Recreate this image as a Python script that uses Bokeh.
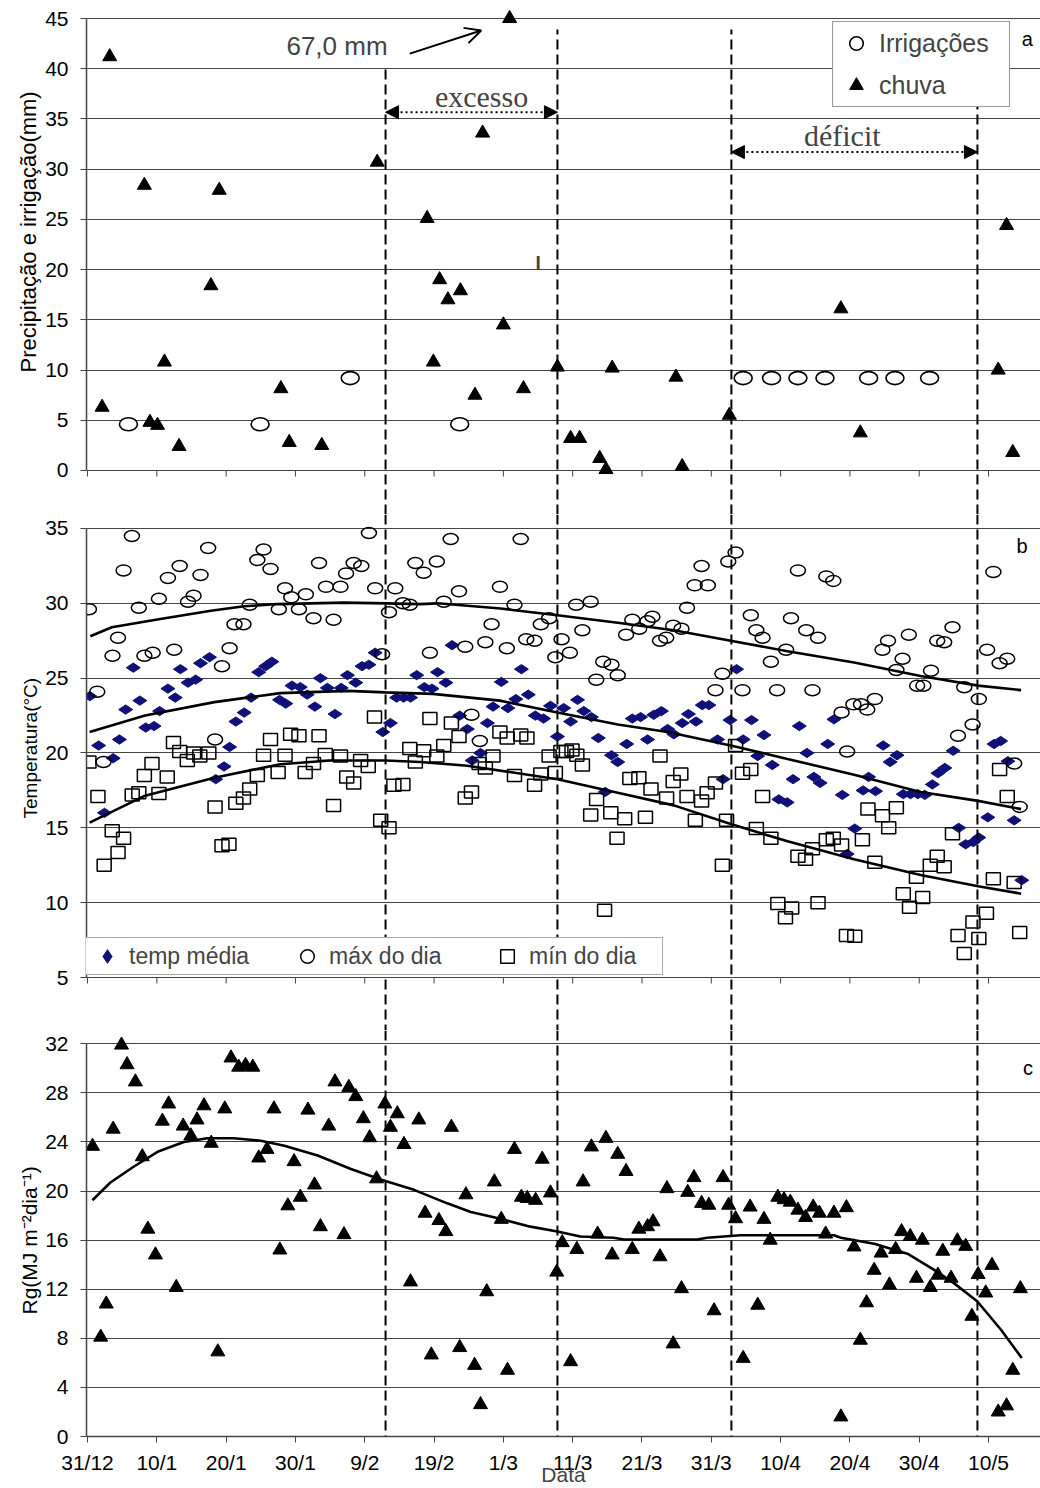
import math
from bokeh.plotting import figure
from bokeh.layouts import column
from bokeh.models import (Range1d, FixedTicker, Span, Legend, LegendItem, Arrow,
                          NormalHead, OpenHead, Label, Title)
from bokeh.embed import file_html
from bokeh.resources import INLINE

SANS = "Liberation Sans"
SERIF = "Liberation Serif"
NAVY = "#10107a"
GRID = "#444444"
NAN = float("nan")

# ---------------- eixo x (dias desde 31/12) ----------------
x_ticks = [0, 10, 20, 30, 40, 50, 60, 70, 80, 90, 100, 110, 120, 130]
x_tick_labels = ["31/12", "10/1", "20/1", "30/1", "9/2", "19/2", "1/3", "11/3",
                 "21/3", "31/3", "10/4", "20/4", "30/4", "10/5"]
periodos = [43.0, 67.8, 92.9, 128.4]          # linhas tracejadas
topo_tracejado_a = [40.0, 43.9, 43.9, 43.9]    # topo das linhas no painel a

# ---------------- painel a : precipitação e irrigação ----------------
irrig_dia = [5.9, 24.9, 37.9, 53.7, 94.6, 98.7, 102.5, 106.4, 112.7, 116.5, 121.5]
irrig_mm = [4.6, 4.6, 9.2, 4.6, 9.2, 9.2, 9.2, 9.2, 9.2, 9.2, 9.2]
chuva_dia = [2.1, 3.2, 8.2, 9.0, 10.1, 11.1, 13.2, 17.8, 19.0, 27.9,
             29.1, 33.8, 41.8, 49.0, 49.9, 50.8, 52.0, 53.8, 55.9, 57.0,
             60.0, 60.9, 62.9, 67.8, 69.7, 71.0, 73.9, 74.8, 75.7, 84.9,
             85.8, 92.6, 108.7, 111.5, 131.4, 132.6, 133.5]
chuva_mm = [6.3, 41.2, 28.4, 4.8, 4.5, 10.8, 2.4, 18.4, 27.9, 8.15,
            2.8, 2.5, 30.7, 25.1, 10.8, 19.0, 17.0, 17.9, 7.5, 33.6,
            14.5, 45.0, 8.15, 10.3, 3.2, 3.2, 1.2, 0.1, 10.2, 9.3,
            0.4, 5.5, 16.1, 3.75, 10.0, 24.4, 1.8]

# ---------------- painel b : temperatura ----------------
tmax_dia = [0.2, 1.4, 2.3, 3.6, 4.4, 5.2, 6.4, 7.4, 8.2, 9.4, 10.3, 11.6, 12.5, 13.3, 14.5,
            15.3, 16.3, 17.4, 18.4, 19.4, 20.5, 21.2, 22.5, 23.4, 24.5, 25.4, 26.4, 27.6,
            28.5, 29.4, 30.5, 31.5, 32.6, 33.4, 34.4, 35.5, 36.5, 37.3, 38.4, 39.5, 40.6,
            41.5, 42.5, 43.5, 44.4, 45.5, 46.5, 47.3, 48.5, 49.4, 50.4, 51.4, 52.4, 53.6,
            54.5, 55.4, 56.6, 57.4, 58.3, 59.5, 60.5, 61.6, 62.5, 63.3, 64.5, 65.4, 66.6,
            67.5, 68.4, 69.6, 70.5, 71.4, 72.6, 73.4, 74.4, 75.6, 76.5, 77.7, 78.6, 79.6,
            80.8, 81.5, 82.6, 83.5, 84.5, 85.7, 86.5, 87.6, 88.6, 89.5, 90.6, 91.6, 92.45,
            93.5, 94.5, 95.7, 96.5, 97.4, 98.6, 99.5, 100.8, 101.5, 102.5, 103.7, 104.6,
            105.4, 106.6, 107.6, 108.8, 109.6, 110.5, 111.6, 112.5, 113.6, 114.7, 115.5,
            116.7, 117.6, 118.5, 119.7, 120.6, 121.7, 122.6, 123.6, 124.8, 125.6, 126.5,
            127.7, 128.6, 129.8, 130.7, 131.6, 132.7, 133.7, 134.5]
tmax = [29.6, 24.1, 19.4, 26.5, 27.7, 32.2, 34.5, 29.7, 26.5, 26.7, 30.3, 31.7, 26.9, 32.5, 30.1,
        30.5, 31.9, 33.7, 20.9, 25.8, 27.0, 28.6, 28.6, 29.9, 32.9, 33.6, 32.3, 29.6,
        31.0, 30.4, 29.6, 30.6, 29.0, 32.7, 31.1, 28.9, 31.1, 32.0, 32.7, 32.5, 34.7,
        31.0, 26.6, 29.4, 31.0, 30.0, 29.9, 32.7, 32.05, 26.7, 32.8, 30.1, 34.3, 30.8,
        27.1, 22.55, 20.8, 27.4, 28.6, 31.1, 27.0, 29.9, 34.3, 27.6, 27.5, 28.6, 29.0,
        26.4, 27.6, 26.7, 29.9, 28.2, 30.1, 24.9, 26.1, 25.9, 25.2, 27.9, 28.9, 28.3,
        28.8, 29.1, 27.5, 27.7, 28.5, 28.3, 29.7, 31.2, 32.5, 31.2, 24.2, 25.3, 32.8,
        33.4, 24.2, 29.2, 28.2, 27.7, 26.1, 24.2, 26.9, 29.0, 32.2, 28.2, 24.2,
        27.7, 31.8, 31.5, 22.7, 20.1, 23.25, 23.25, 22.9, 23.6, 26.9, 27.5,
        25.55, 26.3, 27.9, 24.5, 24.5, 25.5, 27.5, 27.4, 28.4, 21.15, 24.4,
        21.9, 23.6, 26.9, 32.1, 26.0, 26.3, 19.3, 16.4]

tmed_dia = [0.33, 1.6, 2.45, 3.7, 4.6, 5.5, 6.6, 7.55, 8.4, 9.6, 10.4, 11.6, 12.65, 13.4, 14.5,
            15.6, 16.3, 17.6, 18.5, 19.7, 20.5, 21.4, 22.6, 23.6, 24.7, 25.7, 26.6, 27.7,
            28.6, 29.5, 30.7, 31.7, 32.8, 33.6, 34.6, 35.7, 36.6, 37.5, 38.7, 39.6, 40.6,
            41.5, 42.6, 43.7, 44.6, 45.6, 46.6, 47.5, 48.6, 49.7, 50.5, 51.7, 52.6, 53.7,
            54.8, 55.5, 56.7, 57.7, 58.5, 59.7, 60.65, 61.8, 62.6, 63.6, 64.6, 65.8, 66.8,
            67.8, 68.7, 69.7, 70.7, 71.6, 72.7, 73.7, 74.7, 75.6, 76.5, 77.8, 78.6, 79.8,
            80.8, 81.7, 82.8, 83.7, 84.6, 85.8, 86.7, 87.8, 88.7, 89.65, 90.9, 91.7, 92.7,
            93.65, 94.6, 95.8, 96.7, 97.6, 98.8, 99.75, 100.95, 101.8, 102.7, 103.8, 104.8,
            105.7, 106.8, 107.7, 108.9, 109.6, 110.7, 111.9, 112.7, 113.7, 114.8, 115.8,
            116.8, 117.7, 118.75, 119.8, 120.8, 121.9, 122.7, 123.7, 124.9, 125.7, 126.7,
            127.8, 128.6, 129.9, 130.8, 131.75, 132.8, 133.7, 134.8]
tmed = [23.8, 20.5, 16.0, 19.65, 20.9, 22.9, 25.7, 23.5, 21.7, 21.8, 22.8, 24.3, 23.7, 25.6, 24.7,
        24.9, 26.0, 26.4, 18.25, 19.1, 20.4, 22.1, 22.7, 23.7, 25.4, 25.8, 26.1, 23.55,
        23.3, 24.5, 24.4, 23.9, 23.1, 25.0, 24.35, 22.6, 24.35, 25.2, 24.7, 25.8, 25.9,
        26.7, 21.4, 22.0, 23.7, 23.7, 23.7, 25.2, 24.4, 24.3, 25.4, 24.7, 27.2, 22.5,
        21.6, 19.5, 20.0, 22.0, 23.1, 24.75, 23.0, 23.6, 25.6, 23.9, 22.5, 22.3, 23.15,
        21.1, 23.0, 22.1, 23.55, 22.8, 22.4, 21.0, 17.4, 19.85, 19.4, 20.6, 22.3, 22.4,
        20.9, 22.55, 22.8, 21.6, 21.25, 22.0, 22.6, 22.1, 23.2, 23.2, 20.9, 18.25, 22.2,
        25.6, 20.9, 22.2, 19.8, 21.2, 19.2, 16.9, 16.7, 18.25, 21.8, 20.0, 18.4,
        18.0, 20.6, 22.25, 17.2, 13.25, 14.95, 17.5, 18.4, 17.45, 20.5, 19.4,
        19.85, 17.25, 17.25, 17.25, 17.2, 17.9, 18.65, 19.0, 20.15, 15.0, 13.9,
        14.05, 14.35, 15.7, 20.6, 20.8, 19.45, 15.5, 11.5]

tmin_dia = [0.2, 1.5, 2.4, 3.56, 4.4, 5.2, 6.45, 7.4, 8.2, 9.3, 10.3, 11.5, 12.4, 13.3, 14.4,
            15.3, 16.2, 17.5, 18.4, 19.4, 20.4, 21.4, 22.5, 23.4, 24.5, 25.4, 26.4, 27.5,
            28.5, 29.3, 30.5, 31.4, 32.6, 33.4, 34.3, 35.5, 36.5, 37.4, 38.4, 39.4, 40.5,
            41.4, 42.3, 43.5, 44.2, 45.5, 46.5, 47.3, 48.5, 49.4, 50.4, 51.4, 52.5, 53.6,
            54.5, 55.4, 56.5, 57.4, 58.5, 59.5, 60.55, 61.6, 62.5, 63.4, 64.5, 65.4, 66.6,
            67.5, 68.3, 69.1, 69.9, 70.6, 71.4, 72.6, 73.45, 74.6, 75.5, 76.4, 77.5, 78.25,
            79.55, 80.5, 81.3, 82.6, 83.55, 84.5, 85.6, 86.5, 87.7, 88.6, 89.4, 90.6, 91.6,
            92.2, 93.5, 94.5, 95.7, 96.5, 97.4, 98.6, 99.6, 100.7, 101.6, 102.5, 103.6,
            104.6, 105.4, 106.6, 107.6, 108.8, 109.5, 110.7, 111.8, 112.6, 113.6, 114.7,
            115.6, 116.7, 117.7, 118.6, 119.6, 120.5, 121.6, 122.6, 123.6, 124.8, 125.6,
            126.5, 127.75, 128.6, 129.7, 130.7, 131.6, 132.7, 133.7, 134.5]
tmin = [19.4, 17.1, 12.5, 14.8, 13.35, 14.3, 17.2, 17.35, 18.5, 19.3, 17.3, 18.4, 20.7, 20.1, 19.5,
        20.0, 19.8, 20.0, 16.4, 13.8, 13.9, 16.65, 17.0, 17.6, 18.5, 19.85, 20.9, 18.7,
        19.85, 21.25, 21.15, 18.7, 19.3, 21.15, 19.9, 16.5, 19.8, 18.4, 18.0, 19.5, 19.1,
        22.4, 15.5, 15.0, 17.85, 17.9, 20.3, 19.4, 20.15, 22.3, 19.8, 20.5, 22.0, 21.1,
        17.0, 17.4, 19.3, 19.0, 19.8, 21.4, 21.0, 18.5, 21.2, 21.0, 17.85, 18.6, 19.8,
        18.7, 20.1, 20.1, 20.2, 19.85, 19.2, 15.85, 16.9, 9.5, 16.0, 14.3, 15.6, 18.3,
        18.35, 15.7, 17.6, 19.8, 17.0, 18.1, 18.6, 17.1, 15.5, 16.8, 17.35, 18.0, 12.5,
        15.5, 20.5, 18.65, 18.9, 14.95, 17.1, 14.3, 9.95, 9.0, 9.65, 13.1, 12.9,
        13.6, 10.0, 14.2, 14.3, 13.85, 7.8, 7.75, 14.2, 16.25, 12.7, 15.8,
        15.0, 16.35, 10.6, 9.7, 11.7, 10.35, 12.5, 13.1, 12.4, 14.6, 7.8,
        6.6, 8.7, 7.6, 9.3, 11.6, 18.9, 17.1, 11.35, 8.0]

# linhas de tendência (painel b)
tend_dia_max = [0.4, 3.5, 10.5, 17.8, 22.6, 27.4, 37.0, 43.0, 48.0, 50.5, 59.6, 67.8, 76.5,
                84.6, 92.8, 101.0, 110.6, 120.2, 128.5, 134.7]
tend_max = [27.8, 28.4, 28.95, 29.5, 29.8, 29.95, 30.05, 30.0, 29.95, 30.0, 29.65, 29.2, 28.7,
            28.2, 27.5, 26.8, 26.05, 25.15, 24.5, 24.2]
tend_dia_med = [0.3, 8.3, 18.3, 27.8, 37.5, 43.0, 49.8, 59.5, 67.8, 76.5, 83.7, 92.8, 101.0,
                110.6, 120.2, 128.5, 134.7]
tend_med = [21.4, 22.5, 23.4, 24.0, 24.15, 24.05, 23.95, 23.5, 22.7, 21.9, 21.4, 20.5, 19.6,
            18.55, 17.4, 16.8, 16.25]
tend_dia_min = [0.3, 8.3, 18.3, 27.8, 35.0, 43.0, 48.0, 54.8, 67.8, 76.5, 84.6, 92.8, 101.0,
                110.6, 120.2, 128.5, 134.7]
tend_min = [15.35, 17.15, 18.35, 19.25, 19.5, 19.5, 19.4, 19.15, 18.25, 17.35, 16.5, 15.25,
            14.1, 12.9, 11.85, 11.1, 10.6]

# ---------------- painel c : radiação global ----------------
rg_dia = [0.72, 1.9, 2.7, 3.7, 4.9, 5.7, 6.9, 7.9, 8.7, 9.8, 10.8, 11.7, 12.8, 13.8, 14.9, 15.8,
          16.8, 17.85, 18.8, 19.8, 20.7, 21.8, 22.8, 23.85, 24.7, 25.9, 26.9, 27.75, 28.9, 29.8,
          30.7, 31.8, 32.75, 33.6, 34.8, 35.7, 37.0, 37.7, 38.7, 39.8, 40.7, 41.7, 42.9, 43.7,
          44.7, 45.65, 46.6, 47.8, 48.7, 49.6, 50.7, 51.7, 52.5, 53.7, 54.6, 55.85, 56.7, 57.6,
          58.7, 59.7, 60.6, 61.6, 62.6, 63.45, 64.65, 65.6, 66.8, 67.7, 68.5, 69.7, 70.6, 71.5,
          72.7, 73.6, 74.8, 75.7, 76.5, 77.7, 78.6, 79.55, 80.8, 81.6, 82.6, 83.6, 84.5, 85.7,
          86.6, 87.5, 88.6, 89.65, 90.4, 91.7, 92.5, 93.5, 94.6, 95.6, 96.7, 97.6, 98.5, 99.6,
          100.5, 101.4, 102.5, 103.6, 104.7, 105.6, 106.5, 107.7, 108.7, 109.5, 110.6, 111.5,
          112.4, 113.5, 114.5, 115.7, 116.6, 117.45, 118.7, 119.6, 120.45, 121.6, 122.7, 123.4,
          124.6, 125.5, 126.7, 127.6, 128.5, 129.6, 130.5, 131.4, 132.6, 133.5, 134.6]
rg = [23.65, 8.1, 10.8, 25.05, 31.9, 30.3, 28.9, 22.8, 16.9, 14.8, 25.7, 27.1, 12.15, 25.3, 24.5,
      25.8, 26.95, 23.9, 6.9, 26.7, 30.85, 30.1, 30.25, 30.1, 22.7, 23.4, 26.7, 15.2, 18.8, 22.4,
      19.5, 26.6, 20.5, 17.1, 25.3, 28.9, 16.45, 28.45, 27.7, 25.9, 24.35, 21.0, 27.1, 25.2,
      26.3, 23.8, 12.6, 25.8, 18.2, 6.65, 17.6, 16.7, 25.2, 7.25, 19.7, 5.8, 2.6, 11.8,
      20.75, 17.7, 5.4, 23.4, 19.5, 19.4, 19.25, 22.6, 19.85, 13.4, 15.8, 6.1, 15.25, 20.75,
      23.6, 16.5, 24.3, 14.8, 23.0, 21.6, 15.25, 16.9, 17.1, 17.5, 14.65, 20.2, 7.55, 12.05,
      19.9, 21.1, 19.0, 18.85, 10.25, 21.1, 18.85, 17.75, 6.37, 18.7, 10.7, 17.7, 16.0, 19.5,
      19.3, 19.1, 18.45, 17.85, 18.7, 18.2, 16.5, 18.2, 1.6, 18.65, 15.45, 7.85,
      10.9, 13.55, 14.95, 12.35, 15.25, 16.7, 16.3, 12.9, 16.0, 12.15, 13.15, 15.1,
      12.9, 15.95, 15.5, 9.8, 13.2, 11.7, 13.95, 2.0, 2.5, 5.4, 12.05]
tend_dia_rg = [0.7, 3.3, 6.7, 10.1, 13.9, 17.3, 21.1, 25.0, 28.4, 33.2, 38.0, 42.5, 47.1, 51.9,
               55.3, 59.1, 63.9, 67.8, 71.1, 75.9, 77.4, 88.0, 89.4, 94.2, 107.7, 108.7, 113.5,
               118.3, 122.1, 125.0, 128.4, 131.8, 134.8]
tend_rg = [19.25, 20.7, 22.0, 23.2, 24.0, 24.3, 24.3, 24.1, 23.7, 22.9, 21.8, 20.9, 20.1, 19.0,
           18.3, 17.8, 17.1, 16.7, 16.3, 16.2, 16.05, 16.05, 16.2, 16.4, 16.4, 16.2, 15.7,
           14.9, 13.6, 12.5, 11.0, 8.7, 6.4]


def base_fig(frame_h, y0, y1, top, bottom, x_axis):
    p = figure(frame_width=954, frame_height=frame_h,
               x_range=Range1d(-0.15, 137.5), y_range=Range1d(y0, y1),
               min_border_left=86, min_border_right=0,
               min_border_top=top, min_border_bottom=bottom,
               output_backend="svg", toolbar_location=None,
               x_axis_location="below" if x_axis else None,
               outline_line_color=None, background_fill_color="white",
               border_fill_color="white")
    p.xgrid.visible = False
    return p


def style_y(p, ticks, lo, hi):
    ax = p.yaxis[0]
    ax.ticker = FixedTicker(ticks=ticks)
    ax.bounds = (lo, hi)
    ax.major_tick_out = 6
    ax.major_tick_in = 0
    ax.minor_tick_out = 0
    ax.minor_tick_in = 0
    ax.major_label_standoff = 12
    ax.major_label_text_font = SANS
    ax.major_label_text_font_size = "21px"
    ax.major_label_text_color = "black"
    ax.axis_line_color = GRID
    ax.axis_line_width = 1.5
    ax.major_tick_line_color = GRID
    g = p.ygrid[0]
    g.ticker = FixedTicker(ticks=ticks)
    g.grid_line_color = GRID
    g.grid_line_width = 1


def ytitle(p, text, offset, size):
    p.add_layout(Title(text=text, align="left", offset=offset, text_font=SANS,
                       text_font_size=size, text_font_style="normal",
                       text_color="black", standoff=4), "left")


def letter(p, text, xv, yv):
    p.add_layout(Label(x=xv, y=yv, text=text, text_align="center",
                       text_baseline="middle", text_font=SANS,
                       text_font_size="20px", text_color="black"))


# ======================= painel a =======================
ya0, ya1 = -4.381, 45.996
pa = base_fig(506, ya0, ya1, 8, 0, False)
style_y(pa, list(range(0, 50, 5)), 0, 45)
pa.segment(x0=x_ticks, y0=[0] * len(x_ticks), x1=x_ticks, y1=[-0.6] * len(x_ticks),
           line_color=GRID, line_width=1)
pa.segment(x0=periodos, y0=[ya0] * len(periodos), x1=periodos, y1=topo_tracejado_a,
           line_color="black", line_width=2, line_dash="10 5")
pa.ellipse(x=irrig_dia, y=irrig_mm, width=18, height=13, width_units="screen",
           height_units="screen", fill_color="white", line_color="black", line_width=1.6)
pa.scatter(x=chuva_dia, y=chuva_mm, marker="triangle", size=14,
           fill_color="black", line_color="black")
# amostras de legenda (sem posição visível)
leg_irr = pa.scatter(x=[NAN], y=[NAN], marker="circle", size=13, fill_color="white",
                     line_color="black", line_width=1.6)
leg_chu = pa.scatter(x=[NAN], y=[NAN], marker="triangle", size=14, fill_color="black",
                     line_color="black")
leg_a = Legend(items=[LegendItem(label="Irrigações", renderers=[leg_irr]),
                      LegendItem(label="chuva", renderers=[leg_chu])],
               location=(746, 407), orientation="vertical",
               label_text_font=SANS, label_text_font_size="25px",
               glyph_width=38, glyph_height=34, label_height=20, label_width=126,
               label_standoff=4, spacing=8, padding=4, margin=0,
               border_line_color="#333333", border_line_width=1.2,
               background_fill_color="white", background_fill_alpha=1.0)
pa.add_layout(leg_a)
ytitle(pa, "Precipitação e irrigação(mm)", 142, "22px")
letter(pa, "a", 135.6, 43.0)
pa.add_layout(Label(x=28.7, y=42.3, text="67,0 mm", text_align="left",
                    text_baseline="middle", text_font=SANS, text_font_size="26px"))
pa.add_layout(Arrow(end=OpenHead(size=16, line_width=2, line_color="black"),
                    x_start=46.5, y_start=41.5, x_end=56.8, y_end=43.8,
                    line_width=2, line_color="black"))
pa.add_layout(Label(x=65.0, y=20.7, text="I", text_align="center",
                    text_baseline="middle", text_font=SANS, text_font_size="19px",
                    text_font_style="bold"))
pa.add_layout(Label(x=56.85, y=37.2, text="excesso", text_align="center",
                    text_baseline="middle", text_font=SERIF, text_font_size="30px"))
pa.add_layout(Arrow(start=NormalHead(size=13, fill_color="black", line_color="black"),
                    end=NormalHead(size=13, fill_color="black", line_color="black"),
                    x_start=periodos[0], y_start=35.67, x_end=periodos[1], y_end=35.67,
                    line_width=2, line_dash="2 3", line_color="black"))
pa.add_layout(Label(x=108.9, y=33.35, text="déficit", text_align="center",
                    text_baseline="middle", text_font=SERIF, text_font_size="30px"))
pa.add_layout(Arrow(start=NormalHead(size=13, fill_color="black", line_color="black"),
                    end=NormalHead(size=13, fill_color="black", line_color="black"),
                    x_start=periodos[2], y_start=31.7, x_end=periodos[3], y_end=31.7,
                    line_width=2, line_dash="2 3", line_color="black"))

# ======================= painel b =======================
pb = base_fig(516, 1.459, 35.935, 0, 0, False)
style_y(pb, list(range(5, 40, 5)), 5, 35)
pb.segment(x0=x_ticks, y0=[5] * len(x_ticks), x1=x_ticks, y1=[4.6] * len(x_ticks),
           line_color=GRID, line_width=1)
pb.scatter(x=tmed_dia, y=tmed, marker="diamond", angle=math.pi / 2, size=14,
           fill_color=NAVY, line_color=NAVY)
pb.ellipse(x=tmax_dia, y=tmax, width=15, height=11, width_units="screen",
           height_units="screen", fill_color=None, line_color="black", line_width=1.5)
pb.rect(x=tmin_dia, y=tmin, width=14, height=12, width_units="screen",
        height_units="screen", fill_color=None, line_color="black", line_width=1.5)
for xs, ys in ((tend_dia_max, tend_max), (tend_dia_med, tend_med), (tend_dia_min, tend_min)):
    pb.line(x=xs, y=ys, line_color="black", line_width=2.6)
lb_med = pb.scatter(x=[NAN], y=[NAN], marker="diamond", angle=math.pi / 2, size=13,
                    fill_color=NAVY, line_color=NAVY)
lb_max = pb.scatter(x=[NAN], y=[NAN], marker="circle", size=12, fill_color=None,
                    line_color="black", line_width=1.5)
lb_min = pb.scatter(x=[NAN], y=[NAN], marker="square", size=12, fill_color=None,
                    line_color="black", line_width=1.5)
leg_b = Legend(items=[LegendItem(label="temp média", renderers=[lb_med]),
                      LegendItem(label="máx do dia", renderers=[lb_max]),
                      LegendItem(label="mín do dia", renderers=[lb_min])],
               location=(-3, 55), orientation="horizontal",
               label_text_font=SANS, label_text_font_size="23px",
               glyph_width=44, glyph_height=34, label_height=20, label_width=132,
               label_standoff=0, spacing=24, padding=1, margin=0,
               border_line_color="#555555", border_line_width=1.2,
               background_fill_color="white", background_fill_alpha=1.0)
pb.add_layout(leg_b)
for d in periodos:
    pb.add_layout(Span(location=d, dimension="height", line_color="black",
                       line_width=2, line_dash="10 5", level="overlay"))
ytitle(pb, "Temperatura(°C)", 212, "19px")
letter(pb, "b", 134.85, 33.8)

# ======================= painel c =======================
pc = base_fig(406, 0, 33.084, 0, 52, True)
style_y(pc, list(range(0, 36, 4)), 0, 32)
xa = pc.xaxis[0]
xa.ticker = FixedTicker(ticks=x_ticks)
xa.major_label_overrides = {t: lab for t, lab in zip(x_ticks, x_tick_labels)}
xa.major_tick_out = 6
xa.major_tick_in = 0
xa.minor_tick_out = 0
xa.minor_tick_in = 0
xa.major_label_standoff = 8
xa.major_label_text_font = SANS
xa.major_label_text_font_size = "21px"
xa.major_label_text_color = "black"
xa.axis_line_color = GRID
xa.axis_line_width = 1.5
xa.major_tick_line_color = GRID
xa.axis_label = "Data"
xa.axis_label_text_font = SANS
xa.axis_label_text_font_size = "21px"
xa.axis_label_text_font_style = "normal"
xa.axis_label_standoff = -14
pc.scatter(x=rg_dia, y=rg, marker="triangle", size=14, fill_color="black", line_color="black")
pc.line(x=tend_dia_rg, y=tend_rg, line_color="black", line_width=2.6)
for d in periodos:
    pc.add_layout(Span(location=d, dimension="height", line_color="black",
                       line_width=2, line_dash="10 5"))
ytitle(pc, "Rg(MJ m⁻²dia⁻¹)", 122, "21px")
letter(pc, "c", 135.7, 30.0)

layout = column(pa, pb, pc)
with open("out.html", "w") as f:
    f.write(file_html(layout, INLINE))
